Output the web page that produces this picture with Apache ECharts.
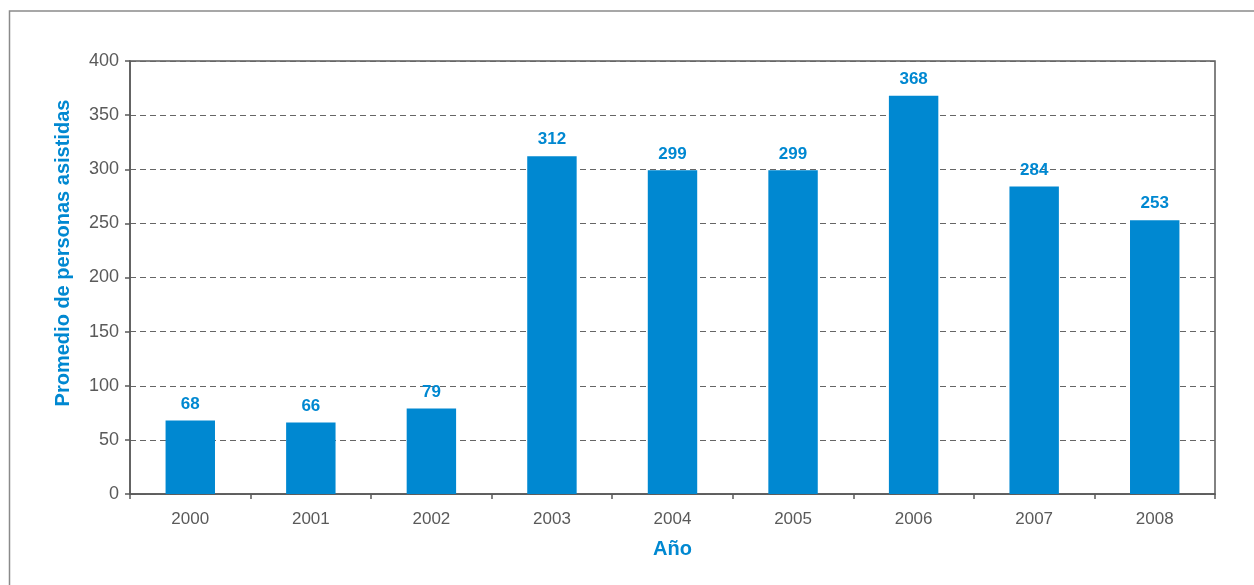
<!DOCTYPE html>
<html><head><meta charset="utf-8">
<script src="https://cdn.jsdelivr.net/npm/echarts@6/dist/echarts.min.js"></script>
<style>html,body{margin:0;padding:0;background:#fff}#c{width:1254px;height:585px}</style>
</head><body><div id="c"></div>
<script>
const categories = ['2000','2001','2002','2003','2004','2005','2006','2007','2008'];
const values = [68, 66, 79, 312, 299, 299, 368, 284, 253];
const yTicks = [0, 50, 100, 150, 200, 250, 300, 350, 400];
const yName = 'Promedio de personas asistidas';
const xName = 'Año';

const chart = echarts.init(document.getElementById('c'), null, {renderer: 'canvas'});
const blue = '#0088d1';
const gray = '#5a5a5a';
chart.setOption({
  animation: false,
  grid: {left: 130, right: 39, top: 61, bottom: 91, show: true, borderColor: gray, borderWidth: 1.5, backgroundColor: 'transparent'},
  graphic: [
    {type: 'rect', shape: {x: 9.5, y: 11, width: 1400, height: 700}, style: {fill: 'none', stroke: '#8a8a8a', lineWidth: 1.5}},
    {type: 'text', x: 63, y: 253, rotation: Math.PI / 2,
     style: {text: yName, fill: blue, font: 'bold 20px "Liberation Sans", Arial, sans-serif', textAlign: 'center', textVerticalAlign: 'middle'}}
  ],
  xAxis: {
    type: 'category', data: categories,
    name: xName, nameLocation: 'middle', nameGap: 45,
    nameTextStyle: {color: blue, fontWeight: 'bold', fontSize: 20, fontFamily: 'Liberation Sans'},
    axisLine: {lineStyle: {color: gray, width: 1.5}},
    axisTick: {show: true, length: 5, lineStyle: {color: gray, width: 1.5}, alignWithLabel: false},
    axisLabel: {color: gray, fontSize: 17, margin: 17, fontFamily: 'Liberation Sans'}
  },
  yAxis: {
    type: 'value', min: 0, max: 400, interval: 50,
    axisLine: {show: true, lineStyle: {color: gray, width: 1.5}},
    axisTick: {show: true, length: 5, lineStyle: {color: gray, width: 1.5}},
    axisLabel: {color: gray, fontSize: 18, margin: 11, fontFamily: 'Liberation Sans',
      formatter: v => yTicks.includes(v) ? String(v) : ''},
    splitLine: {show: true, lineStyle: {color: '#666', type: [6, 4], width: 1}}
  },
  series: [{
    type: 'bar', data: values, barWidth: '41%',
    itemStyle: {color: blue},
    label: {show: true, position: 'top', distance: 8, color: blue, fontWeight: 'bold', fontSize: 17, fontFamily: 'Liberation Sans'}
  }]
});
</script></body></html>
